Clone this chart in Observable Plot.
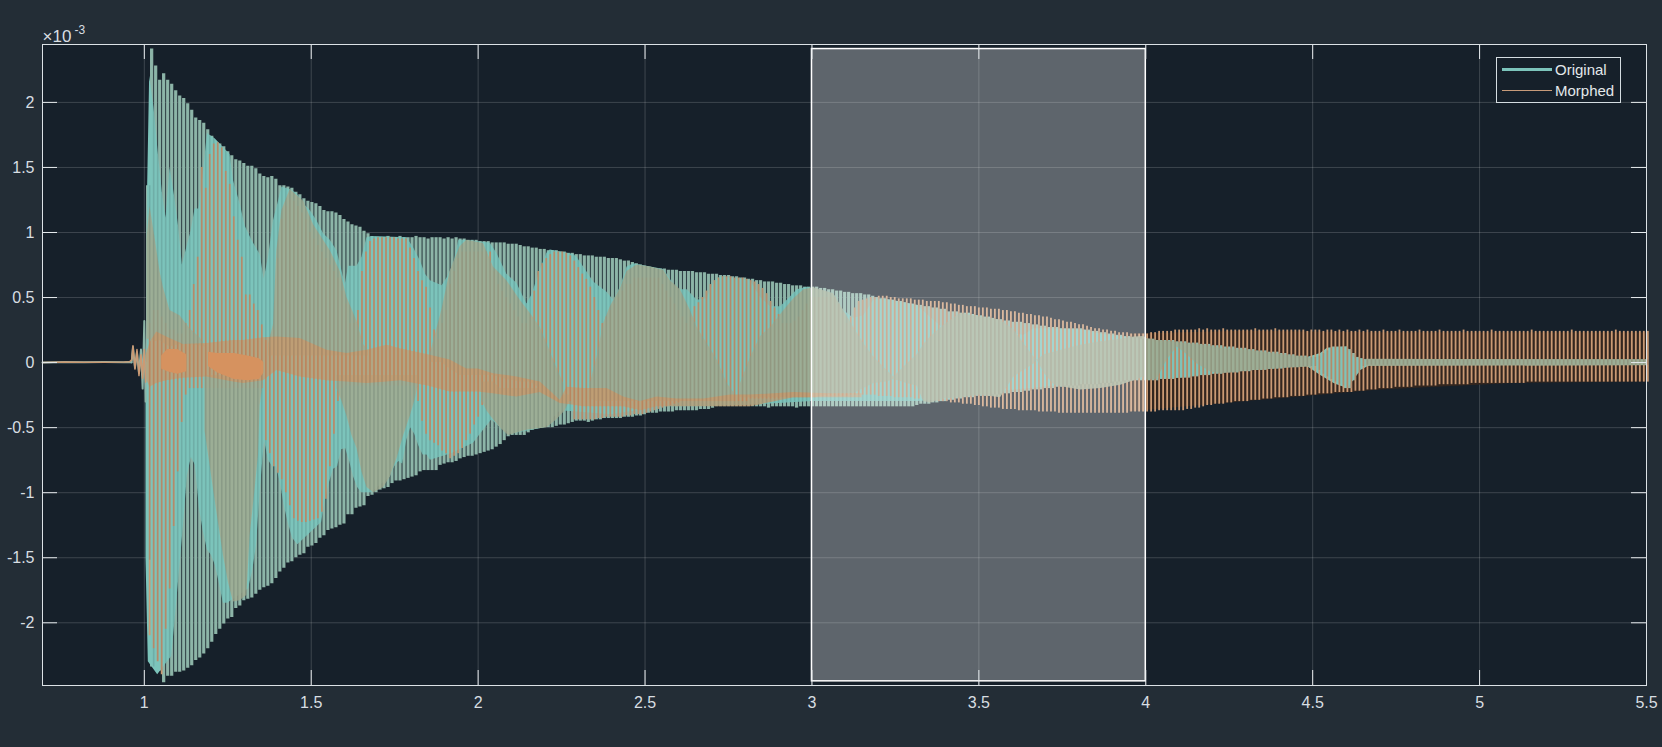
<!DOCTYPE html>
<html><head><meta charset="utf-8">
<script src="https://cdn.jsdelivr.net/npm/d3@7"></script>
<script src="https://cdn.jsdelivr.net/npm/@observablehq/plot@0.6"></script>
<style>
html,body{margin:0;padding:0;background:#232D36;overflow:hidden}
#wrap{position:relative;width:1662px;height:747px;font-family:"Liberation Sans",Arial,sans-serif}
#legend{position:absolute;left:1496px;top:57px;width:123px;height:44px;border:1px solid #D5DDE1;background:#16202A;color:#E3E8EB;font-size:15px;box-sizing:content-box}
#legend .row{position:absolute;left:5px;height:20px;width:118px;line-height:20px}
#legend .k{position:absolute;left:0;width:50px}
#legend .t{position:absolute;left:53px;top:0}
</style></head><body><div id="wrap"><div id="chart"></div>
<div id="legend">
<div class="row" style="top:2px"><span class="k" style="top:8px;height:3px;background:#7CC4BB"></span><span class="t">Original</span></div>
<div class="row" style="top:23px"><span class="k" style="top:9px;height:1px;background:#C79B7A"></span><span class="t">Morphed</span></div>
</div></div>
<script>
const xTicks=[1,1.5,2,2.5,3,3.5,4,4.5,5,5.5];
const yTicks=[-2,-1.5,-1,-0.5,0,0.5,1,1.5,2];
const xDomain=[0.695,5.5], yDomain=[-2.482,2.445];
const firstBar=1.010, barStep=0.012;

// outer envelope per oscillation, in 1e-5
const originalHigh=[136,241,228,217,222,217,214,209,205,203,199,194,188,186,184,179,174,169,168,166,162,159,156,155,153,
151,151,149,145,143,142,143,141,136,136,135,134,131,129,126,124,123,122,120,117,116,116,115,113,110,
108,106,105,104,101,99,97,96,96,96,97,96,96,97,96,96,96,97,96,96,95,96,96,96,95,
96,95,96,95,95,94,94,94,93,93,93,92,92,92,92,91,91,91,90,89,89,88,88,87,87,
86,86,86,85,85,84,84,83,83,82,82,82,81,81,81,80,80,80,79,78,78,77,76,75,74,
73,73,72,72,72,71,71,71,70,70,70,70,69,69,69,68,68,68,67,67,67,66,66,65,65,
64,64,63,63,62,62,62,61,61,60,60,59,59,59,58,58,58,58,57,57,56,56,55,55,54,
54,53,53,53,52,52,51,50,49,49,48,48,47,47,46,45,45,44,44,43,43,42,42,41,41,
39,39,39,38,38,38,37,36,36,35,35,34,33,33,32,32,31,31,31,30,30,29,29,28,28,
27,27,27,26,26,26,26,26,26,25,25,24,24,23,23,22,22,21,21,20,20,19,19,18,18,
18,18,17,17,17,17,17,16,16,16,15,15,15,14,14,14,13,13,13,12,12,12,11,11,11,
10,10,9,9,9,8,8,8,7,7,6,6,5,5,5,4,4,5,7,9,11,12,12,12,12,
10,7,4,3,2,2,2,2,2,2,2,2,2,2,2,2,2,2,2,2,2,2,2,2,2,
2,2,2,2,2,2,2,2,2,2,2,2,2,2,2,2,2,2,2,2,2,2,2,2,2,
2,2,2,2,2,2,2,2,2,2,2,2,2,2,2,2,2,2,2,2,2,2,2,2,2];
const originalLow=[-152,-234,-230,-237,-246,-241,-241,-238,-238,-237,-235,-233,-229,-227,-224,-220,-215,-209,-205,-201,-197,-196,-189,-187,-183,
-182,-181,-178,-175,-173,-172,-170,-166,-161,-158,-154,-153,-150,-148,-147,-142,-141,-139,-135,-133,-129,-128,-127,-125,-124,
-117,-117,-112,-111,-110,-103,-102,-100,-98,-97,-96,-93,-91,-91,-90,-89,-88,-87,-84,-83,-83,-83,-83,-79,-78,
-77,-77,-76,-74,-73,-72,-72,-71,-70,-69,-68,-67,-65,-63,-60,-57,-56,-56,-56,-56,-54,-52,-51,-50,-50,
-50,-50,-49,-48,-48,-47,-46,-45,-45,-45,-46,-45,-44,-44,-43,-43,-43,-43,-43,-42,-42,-42,-41,-41,-40,
-39,-39,-39,-38,-38,-38,-38,-37,-37,-37,-37,-37,-37,-36,-36,-36,-35,-34,-34,-34,-34,-34,-34,-34,-34,
-34,-34,-34,-34,-34,-35,-34,-34,-34,-34,-34,-34,-35,-34,-34,-34,-34,-34,-34,-34,-34,-34,-34,-34,-34,
-34,-34,-34,-34,-34,-34,-34,-34,-34,-34,-34,-34,-34,-34,-34,-34,-34,-33,-32,-32,-32,-31,-31,-30,-30,
-29,-29,-28,-28,-27,-27,-27,-26,-26,-26,-26,-25,-25,-24,-24,-24,-23,-23,-23,-22,-22,-21,-21,-21,-20,
-20,-20,-19,-19,-18,-18,-18,-18,-17,-17,-17,-17,-17,-16,-16,-16,-15,-15,-15,-14,-14,-14,-14,-14,-14,
-14,-14,-14,-13,-13,-13,-13,-12,-12,-12,-12,-11,-11,-10,-10,-10,-9,-9,-9,-8,-8,-8,-8,-7,-7,
-7,-6,-6,-6,-6,-5,-5,-5,-5,-4,-4,-4,-4,-3,-3,-3,-3,-6,-9,-11,-13,-15,-17,-18,-20,
-20,-14,-8,-3,-2,-2,-2,-2,-2,-2,-2,-2,-2,-2,-2,-2,-2,-2,-2,-2,-2,-2,-2,-2,-2,
-2,-2,-2,-2,-2,-2,-2,-2,-2,-2,-2,-2,-2,-2,-2,-2,-2,-2,-2,-2,-2,-2,-2,-2,-2,
-2,-2,-2,-2,-2,-2,-2,-2,-2,-2,-2,-2,-2,-2,-2,-2,-2,-2,-2,-2,-2,-2,-2,-2,-2];
const morphedHigh=[30,40,40,35,30,25,25,22,22,30,40,60,81,150,134,160,168,169,165,147,137,112,94,81,52,
52,45,40,29,17,12,25,80,110,120,125,124,120,115,110,100,95,90,85,80,75,70,65,55,45,
30,30,40,70,85,93,95,96,96,96,96,96,95,95,95,88,80,70,63,58,42,25,18,30,40,
60,70,80,85,85,85,85,85,85,85,85,70,60,55,50,45,40,35,30,30,35,55,70,76,80,
83,85,85,85,84,82,78,73,68,64,58,50,40,30,35,40,45,50,55,60,60,65,65,65,65,
65,65,65,60,55,50,45,40,35,30,35,43,46,50,55,60,63,65,66,66,66,65,65,65,64,
63,62,60,57,53,47,42,37,30,30,30,32,35,40,45,50,50,50,50,50,50,50,45,38,30,
35,42,47,48,49,50,50,51,51,51,50,50,49,49,49,49,48,48,48,47,47,47,47,46,46,
45,45,44,44,43,43,43,42,42,42,41,41,41,40,40,39,39,38,38,37,37,36,36,35,35,
34,33,33,32,31,31,30,29,29,28,27,26,26,25,25,24,24,23,23,23,22,22,22,22,22,
23,23,24,24,24,24,25,25,25,25,25,25,26,25,26,25,25,25,26,25,25,25,25,25,25,
25,26,25,25,25,25,26,25,25,25,25,25,25,25,24,25,25,25,24,25,25,24,25,24,25,
24,24,25,24,25,24,24,24,25,24,24,24,25,24,24,24,24,25,24,24,24,24,25,24,24,
24,24,24,25,24,24,24,24,24,24,25,24,24,24,24,24,24,24,24,24,25,24,24,24,24,
24,24,24,24,24,25,24,24,24,24,24,24,24,24,24,24,25,24,24,24,24,24,24,24,24];
const morphedLow=[-210,-220,-230,-240,-205,-174,-126,-84,-46,-25,-20,-20,-20,-20,-20,-20,-20,-20,-20,-20,-20,-20,-20,-20,-20,
-20,-20,-20,-20,-60,-70,-80,-85,-90,-100,-110,-120,-122,-123,-123,-122,-121,-120,-115,-105,-80,-55,-30,-20,-18,
-18,-18,-18,-18,-18,-18,-18,-18,-18,-18,-18,-18,-18,-18,-18,-18,-18,-30,-45,-55,-60,-62,-64,-68,-70,
-74,-72,-70,-66,-60,-55,-48,-42,-33,-28,-25,-25,-25,-25,-25,-25,-25,-25,-25,-25,-25,-25,-25,-25,-25,
-25,-25,-25,-25,-25,-30,-44,-44,-44,-44,-44,-44,-43,-43,-42,-42,-42,-42,-42,-41,-41,-40,-40,-40,-39,
-38,-37,-36,-35,-34,-33,-32,-31,-30,-30,-30,-30,-30,-30,-30,-30,-30,-30,-30,-30,-30,-30,-30,-30,-30,
-28,-28,-28,-28,-28,-28,-28,-28,-27,-27,-27,-27,-27,-27,-27,-27,-27,-26,-26,-26,-26,-26,-26,-26,-26,
-25,-25,-25,-25,-25,-25,-25,-26,-26,-26,-26,-27,-27,-27,-27,-27,-28,-28,-28,-29,-29,-29,-30,-30,-30,
-31,-31,-31,-32,-32,-32,-33,-33,-34,-34,-35,-35,-35,-36,-36,-36,-36,-37,-37,-37,-37,-37,-38,-38,-38,
-38,-38,-39,-39,-39,-39,-39,-39,-39,-39,-39,-39,-39,-39,-39,-39,-39,-39,-39,-39,-38,-38,-38,-38,-38,
-38,-38,-37,-37,-37,-37,-37,-37,-37,-36,-36,-35,-35,-34,-33,-33,-32,-32,-32,-31,-31,-30,-30,-30,-30,
-29,-29,-29,-28,-28,-28,-27,-27,-27,-27,-26,-26,-26,-26,-25,-25,-25,-24,-24,-24,-24,-23,-23,-23,-23,
-23,-22,-22,-22,-21,-21,-21,-20,-20,-20,-20,-19,-19,-19,-19,-19,-18,-18,-18,-18,-18,-18,-17,-17,-17,
-17,-17,-17,-17,-17,-16,-16,-16,-16,-16,-16,-16,-16,-16,-16,-16,-16,-16,-16,-15,-15,-15,-15,-15,-15,
-15,-15,-15,-15,-15,-15,-15,-15,-15,-15,-15,-15,-15,-15,-15,-15,-15,-15,-15,-15,-15,-15,-15,-15,-15];

// before the onset
const leadTime=[0.695,0.76,0.82,0.88,0.94,0.955,0.962,0.966,0.972,0.978,0.984,0.99,0.995,1.0,1.004];
const leadOriginal=[0.0,0.005,0.002,0.004,0.003,0.005,0.0,0.12,-0.04,0.08,-0.08,0.1,-0.2,0.32,-0.3];
const leadMorphed=[0.0,0.004,0.003,0.003,0.004,0.006,0.02,0.13,-0.05,0.1,-0.1,0.06,-0.12,0.1,-0.15];

// solid part of the Original trace (gaps between strokes closed)
const solidUp=[[1.010,1.36],[1.016,2.2],[1.029,1.96],[1.041,1.63],[1.054,1.31],[1.065,1.11],[1.077,1.5],[1.09,1.29],[1.102,1.06],[1.114,.75],[1.127,.88],[1.14,1.01],[1.152,1.18],[1.164,1.18],[1.177,1.46],[1.189,1.76],[1.212,1.72],[1.257,1.6],[1.267,1.4],[1.287,1.22],[1.302,1.05],[1.322,.94],[1.347,.83],[1.359,.64],[1.372,.81],[1.387,1.09],[1.402,1.24],[1.412,1.35],[1.437,1.33],[1.457,1.3],[1.477,1.22],[1.497,1.17],[1.517,1.09],[1.537,.99],[1.557,.94],[1.577,.86],[1.602,.6],[1.612,.74],[1.637,.74],[1.652,.81],[1.667,.96],[1.682,.97],[1.787,.96],[1.807,.88],[1.827,.78],[1.842,.68],[1.857,.63],[1.892,.59],[1.907,.65],[1.927,.76],[1.942,.94],[1.96,.94],[2.036,.92],[2.056,.84],[2.086,.68],[2.116,.61],[2.146,.45],[2.161,.52],[2.186,.71],[2.206,.84],[2.216,.865],[2.286,.83],[2.296,.81],[2.316,.735],[2.346,.62],[2.386,.54],[2.406,.48],[2.426,.58],[2.446,.735],[2.466,.76],[2.556,.715],[2.566,.68],[2.596,.56],[2.626,.56],[2.656,.48],[2.686,.49],[2.706,.62],[2.726,.66],[2.816,.63],[2.846,.5],[2.876,.43],[2.906,.43],[2.926,.48],[2.956,.56],[2.986,.58],[3.065,.53],[3.095,.4],[3.125,.34],[3.155,.36],[3.185,.48],[3.215,.49],[3.315,.44],[3.365,.325],[3.395,.26],[3.435,.34],[3.465,.377],[3.565,.32],[3.605,.22],[3.635,.21],[3.665,.26],[3.715,.26],[3.815,.25],[3.865,.22],[3.965,.185],[4.04,.15],[4.094,.15],[4.174,.13],[4.324,.09],[4.424,.05],[4.484,.04],[4.524,.07],[4.544,.11],[4.604,.12],[4.624,.04],[4.664,.02],[5.5,.02]];
const solidDown=[[1.005,-1.5],[1.012,-2.3],[1.04,-2.4],[1.082,-2.26],[1.094,-1.93],[1.105,-1.61],[1.117,-1.26],[1.129,-.87],[1.141,-.73],[1.153,-.79],[1.165,-1.12],[1.177,-1.3],[1.189,-1.44],[1.201,-1.48],[1.213,-1.56],[1.225,-1.7],[1.237,-1.85],[1.25,-1.85],[1.312,-1.74],[1.324,-1.61],[1.336,-1.41],[1.348,-.96],[1.36,-.6],[1.372,-.75],[1.384,-.8],[1.396,-.8],[1.408,-.93],[1.42,-1.11],[1.432,-1.24],[1.444,-1.35],[1.46,-1.4],[1.531,-1.23],[1.543,-1.05],[1.555,-.92],[1.567,-.82],[1.579,-.8],[1.591,-.67],[1.603,-.66],[1.615,-.76],[1.627,-.88],[1.639,-.96],[1.651,-1.0],[1.68,-1.0],[1.737,-.88],[1.75,-.8],[1.762,-.76],[1.774,-.78],[1.786,-.6],[1.798,-.5],[1.81,-.55],[1.822,-.64],[1.835,-.71],[1.847,-.71],[1.857,-.75],[1.92,-.7],[1.986,-.62],[2.016,-.52],[2.041,-.44],[2.066,-.5],[2.1,-.55],[2.2,-.5],[2.246,-.37],[2.296,-.38],[2.4,-.4],[2.5,-.36],[2.536,-.34],[2.66,-.34],[2.8,-.33],[3.0,-.3],[3.2,-.3],[3.32,-.3],[3.42,-.28],[3.56,-.22],[3.66,-.2],[3.76,-.17],[3.96,-.13],[4.1,-.12],[4.224,-.08],[4.324,-.06],[4.484,-.03],[4.524,-.1],[4.564,-.16],[4.604,-.2],[4.624,-.135],[4.644,-.06],[4.674,-.02],[5.5,-.02]];

// where the two traces coincide: [time, top, bottom]
const overlapA=[[1.008,.95,.18],[1.017,1.2,.18],[1.032,.96,.16],[1.047,.7,.17],[1.057,.58,.15],[1.077,.4,.12],[1.107,.36,.14],[1.137,.26,.14],[1.167,.19,.13],[1.182,.13,.12]];
const overlapB=[[1.372,.14,.05],[1.387,.29,.05],[1.397,.86,.05],[1.412,1.17,.05],[1.437,1.33,.05],[1.477,1.24,.05],[1.507,1.06,.05],[1.557,.86,.05],[1.587,.7,.05],[1.607,.5,.05],[1.637,.32,.05],[1.657,.14,.05],[1.672,.09,.05]];
const overlapC=[[1.856,.06,0],[1.891,.4,0],[1.916,.7,-.05],[1.946,.89,-.1],[1.966,.94,-.1],[2.016,.915,-.1],[2.046,.735,-.1],[2.086,.63,-.13],[2.126,.48,-.15],[2.156,.38,-.15],[2.186,.27,-.2],[2.206,.146,-.25],[2.226,.02,-.28],[2.256,-.16,-.28]];
const overlapD=[[1.182,-.1,-.53],[1.197,-.1,-.79],[1.207,-.1,-.97],[1.222,-.1,-1.23],[1.237,-.1,-1.48],[1.252,-.1,-1.69],[1.267,-.1,-1.84],[1.287,-.1,-1.83],[1.307,-.1,-1.79],[1.317,-.1,-1.33],[1.332,-.1,-.97],[1.342,-.1,-.71],[1.347,-.1,-.33],[1.357,-.1,-.15]];
const overlapE=[[1.577,-.1,-.2],[1.592,-.1,-.3],[1.607,-.1,-.41],[1.622,-.1,-.56],[1.637,-.1,-.66],[1.652,-.1,-.84],[1.667,-.1,-.96],[1.687,-.1,-1.0],[1.717,-.1,-.96],[1.737,-.1,-.88],[1.757,-.1,-.74],[1.777,-.1,-.56],[1.797,-.1,-.41],[1.812,-.1,-.28],[1.822,-.1,-.15]];
const overlapF=[[2.011,-.15,-.29],[2.026,-.15,-.37],[2.046,-.15,-.44],[2.066,-.2,-.5],[2.091,-.2,-.56],[2.146,-.2,-.52],[2.206,-.2,-.5],[2.236,-.25,-.44],[2.261,-.25,-.37],[2.276,-.25,-.29]];
const overlapG=[[2.336,-.16,-.28],[2.356,.04,-.3],[2.376,.3,-.3],[2.396,.43,-.3],[2.426,.57,-.3],[2.446,.7,-.3],[2.476,.75,-.3],[2.516,.735,-.3],[2.556,.71,-.3],[2.576,.63,-.3],[2.606,.56,-.3],[2.636,.4,-.3],[2.656,.27,-.3],[2.686,.146,-.3],[2.716,.02,-.3],[2.746,-.16,-.3],[2.766,-.23,-.3]];
const overlapH=[[2.786,-.16,-.27],[2.816,.04,-.27],[2.846,.2,-.27],[2.876,.27,-.27],[2.916,.4,-.27],[2.946,.49,-.27],[2.976,.56,-.27],[3.006,.575,-.27],[3.065,.53,-.24],[3.095,.4,-.24],[3.125,.27,-.24],[3.155,.146,-.2],[3.185,.043,-.16],[3.225,-.06,-.15],[3.245,-.11,-.13]];
const overlapI=[[3.245,-.11,-.13],[3.285,-.01,-.16],[3.315,.06,-.18],[3.335,.14,-.3],[3.355,.197,-.31],[3.395,.287,-.28],[3.445,.377,-.27],[3.505,.35,-.25],[3.565,.325,-.27],[3.605,.25,-.11],[3.635,.146,-.06],[3.665,.043,-.01],[3.675,.018,.018]];
const overlapJ=[[3.675,.018,.018],[3.695,.06,-.08],[3.725,.08,-.17],[3.755,.1,-.19],[3.805,.133,-.21],[3.865,.16,-.2],[3.925,.18,-.175],[3.965,.197,-.14],[3.995,.2,-.11],[4.004,.184,-.136],[4.024,.175,-.13],[4.034,.17,-.13],[4.064,.165,.02],[4.094,.155,.12],[4.124,.145,.06],[4.154,.14,-.01],[4.194,.125,-.07],[4.224,.11,-.085],[4.324,.09,-.06],[4.424,.055,-.04],[4.484,.04,-.035],[4.5,.03,-.04]];
const overlapK=[[4.66,.025,-.03],[5.5,.02,-.025]];
const overlaps=[overlapA,overlapB,overlapC,overlapD,overlapE,overlapF,overlapG,overlapH,overlapI,overlapJ,overlapK];

// dense Morphed band round zero and its two solid blobs
const band=[[1.005,.05,-.12],[1.017,.15,-.19],[1.037,.236,-.16],[1.067,.197,-.14],[1.117,.14,-.12],[1.187,.146,-.11],[1.267,.17,-.15],[1.297,.17,-.16],[1.357,.19,-.14],[1.397,.197,-.06],[1.467,.185,-.11],[1.547,.095,-.14],[1.607,.07,-.15],[1.667,.095,-.16],[1.727,.133,-.15],[1.767,.107,-.14],[1.85,.06,-.18],[1.916,.02,-.226],[1.966,-.05,-.226],[2.0,-.05,-.226],[2.046,-.085,-.24],[2.116,-.11,-.265],[2.186,-.15,-.23],[2.246,-.29,-.315],[2.266,-.19,-.32],[2.316,-.2,-.34],[2.386,-.2,-.34],[2.436,-.265,-.34],[2.486,-.3,-.37],[2.536,-.265,-.34],[2.596,-.28,-.34],[2.676,-.28,-.34],[2.756,-.25,-.34],[2.816,-.25,-.34],[2.946,-.23,-.27],[3.05,-.24,-.27],[3.15,-.24,-.27]];
const blobA=[[1.052,.05,-.05],[1.07,.1,-.07],[1.10,.1,-.09],[1.127,.06,-.07]];
const blobB=[[1.192,.08,-.03],[1.22,.07,-.08],[1.27,.07,-.13],[1.31,.05,-.14],[1.345,.03,-.13],[1.358,0,-.08]];
const tail=[[3.95,.22,-.38],[4.3,.24,-.3],[4.7,.23,-.21],[5.1,.23,-.16],[5.5,.23,-.15]];

const highlight={x1:3,x2:4,y1:-2.45,y2:2.41};
const teal="#7CC4BB",orange="#CB9A74",olive="#A0AC92",strokeOlive="#8DB5A8",ink="#D8DEE2",panel="#16202A";
const bars=d3.range(originalHigh.length);
const barX=i=>firstBar+i*barStep;
const row3={x:d=>d[0],y1:d=>d[1],y2:d=>d[2]};
const tickX=15/333.8,tickY=15/130.1;

const plot=Plot.plot({
  width:1662,height:747,marginLeft:42,marginRight:16,marginTop:44,marginBottom:62,
  style:{background:"#232D36",fontFamily:"'Liberation Sans',Arial,sans-serif",color:ink},
  x:{domain:xDomain,axis:null},y:{domain:yDomain,axis:null},
  marks:[
    Plot.frame({fill:panel,stroke:"none"}),
    Plot.ruleX(xTicks,{stroke:"#fff",strokeOpacity:.17}),
    Plot.ruleY(yTicks,{stroke:"#fff",strokeOpacity:.17}),
    Plot.areaY(tail,{...row3,fill:"#33261F"}),
    Plot.ruleX(bars,{x:barX,y1:i=>originalLow[i]/100,y2:i=>originalHigh[i]/100,stroke:strokeOlive,strokeWidth:3.3}),
    Plot.areaY(solidUp,{x:d=>d[0],y1:0,y2:d=>d[1],fill:teal}),
    Plot.areaY(solidDown,{x:d=>d[0],y1:0,y2:d=>d[1],fill:teal}),
    Plot.ruleX(bars,{x:i=>barX(i)+barStep/2,y1:i=>morphedLow[i]/100,y2:i=>morphedHigh[i]/100,stroke:orange,strokeWidth:1.8}),
    ...overlaps.map(o=>Plot.areaY(o,{...row3,fill:olive,fillOpacity:.9})),
    Plot.areaY(band,{...row3,fill:"#D6925F",fillOpacity:.6}),
    Plot.ruleX(bars,{x:i=>barX(i)+barStep/2,y1:i=>originalLow[i]/100,y2:i=>originalHigh[i]/100,stroke:panel,strokeOpacity:.13,strokeWidth:1.6}),
    Plot.areaY(blobA,{...row3,fill:"#D6925F"}),
    Plot.areaY(blobB,{...row3,fill:"#D6925F"}),
    Plot.line(leadTime.map((t,i)=>[t,leadOriginal[i]]),{x:d=>d[0],y:d=>d[1],stroke:strokeOlive,strokeWidth:2}),
    Plot.line(leadTime.map((t,i)=>[t,leadMorphed[i]]),{x:d=>d[0],y:d=>d[1],stroke:orange,strokeWidth:1.5}),
    Plot.rect([highlight],{x1:"x1",x2:"x2",y1:"y1",y2:"y2",fill:"#fff",fillOpacity:.31,stroke:"#fff",strokeWidth:1.5}),
    Plot.ruleX(xTicks,{y1:yDomain[0],y2:yDomain[0]+tickY,stroke:"#E8ECEF"}),
    Plot.ruleX(xTicks,{y1:yDomain[1],y2:yDomain[1]-tickY,stroke:"#E8ECEF"}),
    Plot.ruleY(yTicks,{x1:xDomain[0],x2:xDomain[0]+tickX,stroke:"#E8ECEF"}),
    Plot.ruleY(yTicks,{x1:xDomain[1],x2:xDomain[1]-tickX,stroke:"#E8ECEF"}),
    Plot.frame({stroke:"#DCE2E6",strokeWidth:1}),
    Plot.axisX({ticks:xTicks,anchor:"bottom",tickSize:0,tickPadding:11,tickFormat:d=>String(d),fontSize:16,label:null,fill:ink}),
    Plot.axisY({ticks:yTicks,anchor:"left",tickSize:0,tickPadding:8,tickFormat:d=>String(d),fontSize:16,label:null,fill:ink}),
    Plot.text(["\u00d710"],{text:d=>d,frameAnchor:"top-left",textAnchor:"start",lineAnchor:"bottom",dx:0,dy:-3,fontSize:17,fill:ink}),
    Plot.text(["-3"],{text:d=>d,frameAnchor:"top-left",textAnchor:"start",lineAnchor:"bottom",dx:32,dy:-11,fontSize:12,fill:ink})
  ]
});
document.getElementById("chart").appendChild(plot);
</script></body></html>
